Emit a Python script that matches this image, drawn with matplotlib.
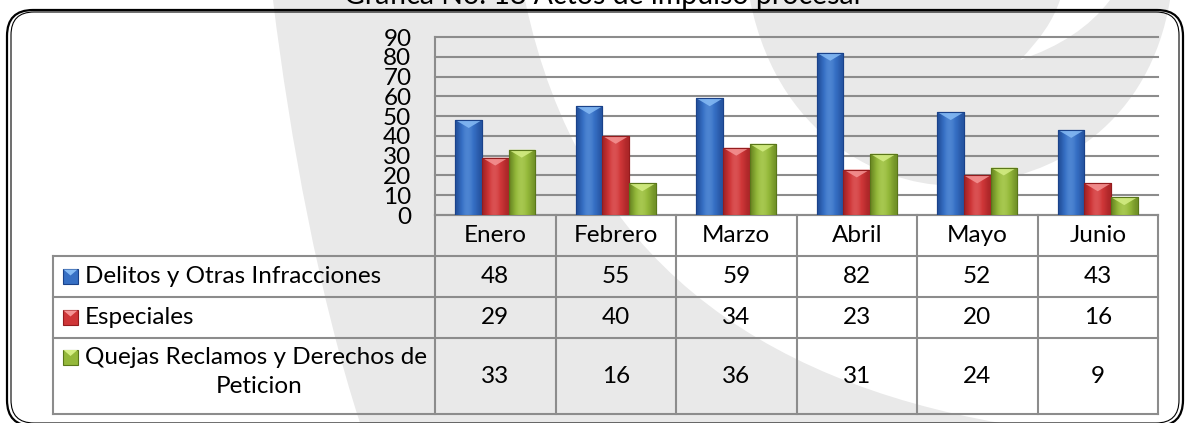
import matplotlib.pyplot as plt
import numpy as np
from matplotlib.patches import Polygon, FancyBboxPatch, Rectangle, PathPatch
from matplotlib.path import Path
from matplotlib.colors import LinearSegmentedColormap

plt.rcParams['font.family'] = ['Lato', 'DejaVu Sans']

# datos
titulo = 'Grafica No. 18 Actos de impulso procesal'
meses = ['Enero', 'Febrero', 'Marzo', 'Abril', 'Mayo', 'Junio']
series = ['Delitos y Otras Infracciones', 'Especiales', 'Quejas Reclamos y Derechos de', 'Peticion']
delitos = [48, 55, 59, 82, 52, 43]
especiales = [29, 40, 34, 23, 20, 16]
quejas = [33, 16, 36, 31, 24, 9]
yticks = list(range(0, 100, 10))

# (oscuro, medio, claro) por serie
colores = [('#1a428a', '#366fc4', '#86bbf5'),
           ('#941c1e', '#cf3638', '#f59595'),
           ('#5a771a', '#94b83a', '#d5ee85')]

W, H = 1185, 423
fig = plt.figure(figsize=(W / 100, H / 100), dpi=100)
bg = fig.add_axes([0, 0, 1, 1])
bg.set_xlim(0, W)
bg.set_ylim(0, H)
bg.axis('off')


def fy(y):
    # pixeles desde arriba -> coordenada del fondo
    return H - y


gris_fondo = '#e9e9e9'
# marca de agua (franja gris curva)
va = [(273, 0), (290, 140), (320, 300), (360, 423), (1000, 423),
      (760, 380), (580, 260), (525, 0), (273, 0)]
ca = [Path.MOVETO, Path.CURVE4, Path.CURVE4, Path.CURVE4, Path.LINETO,
      Path.CURVE4, Path.CURVE4, Path.CURVE4, Path.CLOSEPOLY]
bg.add_patch(PathPatch(Path([(a, fy(b)) for a, b in va], ca), fc=gris_fondo, ec='none', zorder=0))
vb = [(750, 0), (780, 150), (900, 190), (960, 185),
      (1060, 180), (1150, 120), (1170, 0), (750, 0)]
cb = [Path.MOVETO, Path.CURVE4, Path.CURVE4, Path.CURVE4,
      Path.CURVE4, Path.CURVE4, Path.CURVE4, Path.CLOSEPOLY]
bg.add_patch(PathPatch(Path([(a, fy(b)) for a, b in vb], cb), fc=gris_fondo, ec='none', zorder=0))
vc = [(1060, 0), (1050, 30), (1020, 60), (1080, 40), (1110, 0), (1060, 0)]
cc = [Path.MOVETO, Path.CURVE3, Path.CURVE3, Path.CURVE3, Path.CURVE3, Path.CLOSEPOLY]
bg.add_patch(PathPatch(Path([(a, fy(b)) for a, b in vc], cc), fc='white', ec='none', zorder=0))

# marco doble redondeado
bg.add_patch(FancyBboxPatch((7, fy(426)), 1176, 416, boxstyle='round,pad=0,rounding_size=26',
                            fill=False, ec='black', lw=1.6, zorder=2))
bg.add_patch(FancyBboxPatch((11, fy(423)), 1168, 411, boxstyle='round,pad=0,rounding_size=23',
                            fill=False, ec='black', lw=0.8, zorder=2))

bg.text(602, fy(4), titulo, ha='center', va='baseline', fontsize=20.5, zorder=3)

# tabla de datos
gris = '#8c8c8c'
x_izq, x0, x1 = 53, 435, 1158
bordes = np.linspace(x0, x1, len(meses) + 1)
filas = [215, 256, 297, 338, 414]
for yy in filas[1:]:
    bg.plot([x_izq, x1], [fy(yy), fy(yy)], color=gris, lw=1.5, zorder=2)
bg.plot([x0, x1], [fy(filas[0]), fy(filas[0])], color=gris, lw=1.5, zorder=2)
bg.plot([x_izq, x_izq], [fy(filas[1]), fy(filas[-1])], color=gris, lw=1.5, zorder=2)
for xx in bordes:
    bg.plot([xx, xx], [fy(filas[0]), fy(filas[-1])], color=gris, lw=1.5, zorder=2)

centros = (bordes[:-1] + bordes[1:]) / 2
cfila = [(filas[i] + filas[i + 1]) / 2 for i in range(4)]
fs = 17.5
for cx, m in zip(centros, meses):
    bg.text(cx, fy(cfila[0]), m, ha='center', va='center', fontsize=fs, zorder=3)
for i, vals in enumerate([delitos, especiales, quejas]):
    for cx, v in zip(centros, vals):
        bg.text(cx, fy(cfila[i + 1]), str(v), ha='center', va='center', fontsize=fs, zorder=3)

# leyenda en la tabla
icon_y = [cfila[1], cfila[2], 357]
for (osc, med, cla), iy in zip(colores, icon_y):
    bg.add_patch(Rectangle((63, fy(iy + 7.5)), 15, 15, fc=med, ec=osc, lw=0.8, zorder=3))
    bg.add_patch(Polygon([(63.5, fy(iy - 7)), (77.5, fy(iy - 7)), (70.5, fy(iy - 1))],
                         fc=cla, ec='none', zorder=3))
bg.text(85, fy(cfila[1]), series[0], ha='left', va='center', fontsize=fs, zorder=3)
bg.text(85, fy(cfila[2]), series[1], ha='left', va='center', fontsize=fs, zorder=3)
bg.text(85, fy(357), series[2], ha='left', va='center', fontsize=fs, zorder=3)
bg.text(259, fy(386), series[3], ha='center', va='center', fontsize=fs, zorder=3)

# grafico de barras
ax = fig.add_axes([x0 / W, 1 - filas[0] / H, (x1 - x0) / W, (filas[0] - 37) / H])
ax.set_facecolor('none')
ax.set_zorder(1)
x = np.arange(len(meses))
bw = 0.22
bev = 4.0
grad = np.array([[0.15, 0.45, 0.62, 0.66, 0.55, 0.4, 0.2]])
for k, (vals, (osc, med, cla)) in enumerate(zip([delitos, especiales, quejas], colores)):
    cm = LinearSegmentedColormap.from_list('c%d' % k, [osc, med, cla])
    barras = ax.bar(x + (k - 1) * bw, vals, bw, color=med, edgecolor=osc, lw=0.8, zorder=3)
    for b in barras:
        bx, w, h = b.get_x(), b.get_width(), b.get_height()
        im = ax.imshow(grad, cmap=cm, vmin=0, vmax=1, extent=(bx, bx + w, 0, h),
                       aspect='auto', interpolation='bicubic', zorder=3.2)
        im.set_clip_path(b)
        ax.add_patch(Polygon([(bx, h), (bx + w, h), (bx + w / 2, h - bev)],
                             fc=cla, ec='none', alpha=0.85, zorder=3.4))
        ax.add_patch(Rectangle((bx, 0), w, h, fill=False, ec=osc, lw=0.8, zorder=3.5))

ax.set_xlim(-0.5, len(meses) - 0.5)
ax.set_ylim(0, 90)
ax.set_yticks(yticks)
ax.set_yticklabels([str(v) for v in yticks], fontsize=17.5)
ax.set_xticks([])
ax.tick_params(axis='y', length=0, pad=17)
ax.grid(axis='y', color=gris, lw=1.5)
ax.set_axisbelow(True)
for gl in ax.get_ygridlines():
    gl.set_clip_on(False)
for s in ['top', 'right', 'bottom']:
    ax.spines[s].set_visible(False)
ax.spines['left'].set_color(gris)
ax.spines['left'].set_linewidth(1.5)

fig.savefig('out.png', dpi=100)
